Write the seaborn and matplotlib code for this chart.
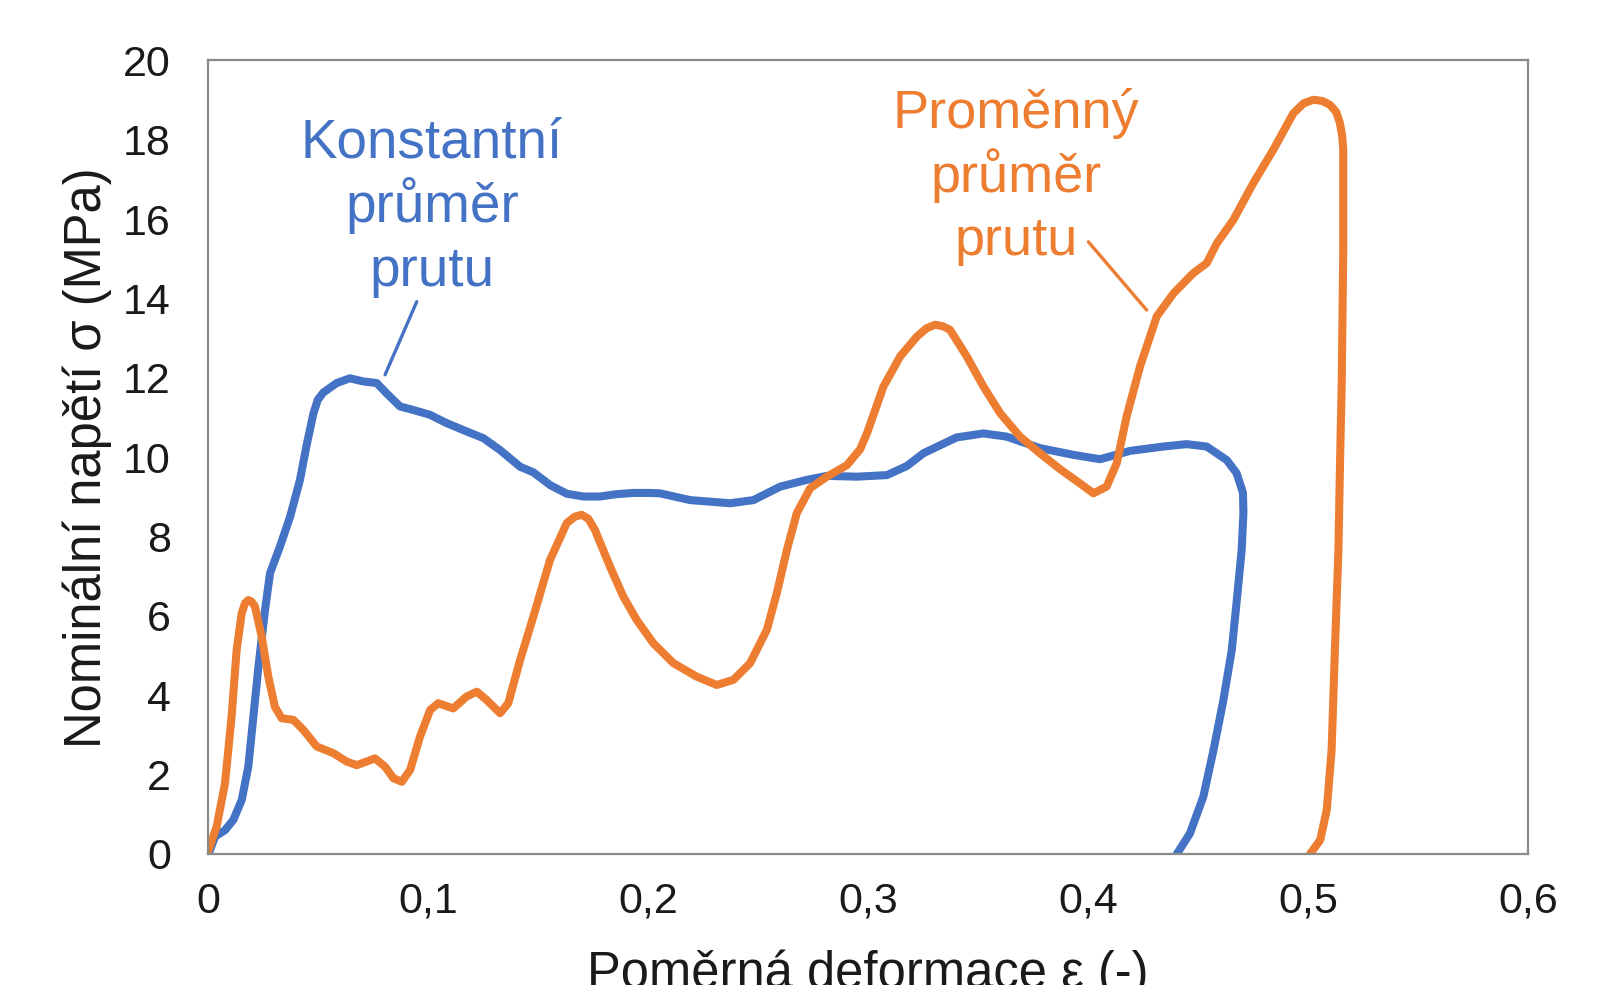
import matplotlib
matplotlib.use("Agg")
import matplotlib.pyplot as plt
import seaborn as sns
import pandas as pd

# Stress-strain curves of two lattice variants
konst_strain = [0.0, 0.003, 0.0075, 0.0113, 0.0151, 0.0181, 0.0204, 0.0227, 0.0257, 0.028,
                0.0325, 0.0371, 0.0416, 0.0446, 0.0477, 0.0497, 0.0522, 0.0583, 0.0643, 0.0704,
                0.0765, 0.081, 0.0871, 0.0932, 0.1007, 0.1083, 0.1174, 0.125, 0.1326, 0.1417,
                0.1477, 0.1553, 0.1629, 0.1705, 0.178, 0.1856, 0.1932, 0.2008, 0.2053, 0.219,
                0.2372, 0.2478, 0.26, 0.2721, 0.2812, 0.2948, 0.3085, 0.3176, 0.3251, 0.3402,
                0.3524, 0.3629, 0.3781, 0.3933, 0.4054, 0.419, 0.4342, 0.4448, 0.4539, 0.463,
                0.4675, 0.4704, 0.4706, 0.4698, 0.4676, 0.4653, 0.4615, 0.457, 0.4524, 0.4463,
                0.4403]
konst_stress = [0.0, 0.44, 0.6, 0.86, 1.36, 2.2, 3.46, 4.72, 6.15, 7.08,
                7.75, 8.5, 9.43, 10.3, 11.1, 11.45, 11.63, 11.87, 11.99, 11.91,
                11.87, 11.61, 11.28, 11.19, 11.07, 10.86, 10.65, 10.48, 10.18, 9.76,
                9.62, 9.3, 9.08, 9.01, 9.01, 9.07, 9.1, 9.1, 9.09, 8.92,
                8.84, 8.92, 9.26, 9.43, 9.53, 9.51, 9.55, 9.78, 10.1, 10.5,
                10.6, 10.52, 10.23, 10.06, 9.95, 10.16, 10.27, 10.33, 10.27, 9.93,
                9.6, 9.1, 8.6, 7.66, 6.4, 5.14, 3.88, 2.62, 1.45, 0.52,
                0.0]

prom_strain = [0.0, 0.0037, 0.0075, 0.0105, 0.0128, 0.0151, 0.0166, 0.0181, 0.0196, 0.0211,
               0.0242, 0.0272, 0.0302, 0.0333, 0.0386, 0.0431, 0.0492, 0.0568, 0.0628, 0.0674,
               0.0719, 0.0757, 0.0803, 0.0841, 0.0879, 0.0917, 0.0962, 0.1008, 0.1045, 0.1113,
               0.1174, 0.122, 0.1265, 0.1326, 0.1363, 0.1417, 0.1477, 0.1553, 0.1629, 0.1665,
               0.1697, 0.1727, 0.1757, 0.1826, 0.1886, 0.1947, 0.2023, 0.2114, 0.222, 0.2311,
               0.2387, 0.2463, 0.2539, 0.2584, 0.263, 0.2675, 0.2736, 0.2812, 0.2903, 0.2963,
               0.2994, 0.3069, 0.3145, 0.3221, 0.3265, 0.3304, 0.3340, 0.3372, 0.3448, 0.3524,
               0.36, 0.369, 0.3781, 0.3872, 0.3963, 0.4024, 0.4084, 0.413, 0.4175, 0.4236,
               0.4312, 0.4388, 0.4478, 0.4539, 0.4585, 0.466, 0.4751, 0.4842, 0.4933, 0.4980,
               0.5024, 0.5065, 0.51, 0.5128, 0.5145, 0.5155, 0.516, 0.516, 0.5153, 0.5145,
               0.5138, 0.5122, 0.5107, 0.5085, 0.5055, 0.5009]
prom_stress = [0.1, 0.69, 1.78, 3.46, 5.14, 6.07, 6.32, 6.4, 6.36, 6.24,
               5.48, 4.47, 3.71, 3.42, 3.38, 3.13, 2.71, 2.54, 2.33, 2.24,
               2.33, 2.41, 2.2, 1.91, 1.82, 2.12, 2.96, 3.63, 3.8, 3.67,
               3.97, 4.09, 3.88, 3.55, 3.8, 4.89, 5.98, 7.41, 8.34, 8.5,
               8.55, 8.45, 8.17, 7.24, 6.49, 5.9, 5.31, 4.81, 4.47, 4.26,
               4.39, 4.81, 5.65, 6.57, 7.66, 8.59, 9.22, 9.51, 9.8, 10.2,
               10.6, 11.78, 12.54, 13.04, 13.25, 13.34, 13.3, 13.21, 12.54, 11.78,
               11.11, 10.52, 10.1, 9.7, 9.34, 9.09, 9.26, 9.85, 11.03, 12.29,
               13.55, 14.13, 14.64, 14.89, 15.39, 15.98, 16.91, 17.75, 18.67, 18.92,
               19.01, 18.98, 18.88, 18.7, 18.42, 18.1, 17.75, 15.23, 11.87, 9.76,
               7.66, 5.14, 2.62, 1.11, 0.35, 0.0]

series_names = ["Konstantní průměr prutu", "Proměnný průměr prutu"]
label_lines = [["Konstantní", "průměr", "prutu"], ["Proměnný", "průměr", "prutu"]]
x_ticks = [0, 0.1, 0.2, 0.3, 0.4, 0.5, 0.6]
x_tick_labels = ["0", "0,1", "0,2", "0,3", "0,4", "0,5", "0,6"]
y_ticks = [0, 2, 4, 6, 8, 10, 12, 14, 16, 18, 20]

BLUE = "#4472C4"
ORANGE = "#ED7D31"

sns.set_theme(style="white")
plt.rcParams["font.family"] = ["Liberation Sans", "DejaVu Sans"]

df = pd.concat([
    pd.DataFrame({"strain": konst_strain, "stress": konst_stress, "serie": series_names[0]}),
    pd.DataFrame({"strain": prom_strain, "stress": prom_stress, "serie": series_names[1]}),
], ignore_index=True)

fig = plt.figure(figsize=(16.2, 9.85), dpi=100)
ax = fig.add_axes([0.1287, 0.1330, 0.8145, 0.8056])

sns.lineplot(data=df, x="strain", y="stress", hue="serie", units="serie",
             estimator=None, sort=False, palette=[BLUE, ORANGE], linewidth=5.8,
             legend=False, ax=ax)
for line in ax.get_lines():
    line.set_solid_capstyle("round")
    line.set_solid_joinstyle("round")

ax.set_xlim(0, 0.6)
ax.set_ylim(0, 20)
ax.set_xticks(x_ticks)
ax.set_xticklabels(x_tick_labels)
ax.set_yticks(y_ticks)
ax.tick_params(axis="both", length=0, labelsize=31, labelcolor="#1a1a1a")
ax.tick_params(axis="x", pad=20)
ax.tick_params(axis="y", pad=27)

for sp in ax.spines.values():
    sp.set_visible(True)
    sp.set_color("#8a8a8a")
    sp.set_linewidth(1.6)

ax.set_xlabel("Poměrná deformace ε (-)", fontsize=36.5, color="#1a1a1a")
ax.set_ylabel("Nominální napětí σ (MPa)", fontsize=36.5, color="#1a1a1a")
ax.xaxis.set_label_coords(0.5, -0.12)
ax.yaxis.set_label_coords(-0.0731, 0.5)

# Curve labels with leader lines
blue_base = [17.56, 15.94, 14.32]
orange_base = [18.29, 16.69, 15.10]
for txt, yb in zip(label_lines[0], blue_base):
    ax.text(0.1016, yb, txt, ha="center", va="baseline", fontsize=39.5, color=BLUE)
for txt, yb in zip(label_lines[1], orange_base):
    ax.text(0.3672, yb, txt, ha="center", va="baseline", fontsize=39, color=ORANGE)

ax.annotate("", xy=(0.0803, 12.08), xytext=(0.0947, 13.92),
            arrowprops=dict(arrowstyle="-", color=BLUE, lw=2.4, shrinkA=0, shrinkB=0))
ax.annotate("", xy=(0.4266, 13.71), xytext=(0.4001, 15.43),
            arrowprops=dict(arrowstyle="-", color=ORANGE, lw=2.4, shrinkA=0, shrinkB=0))

fig.savefig("out.png", dpi=100, facecolor="white")
